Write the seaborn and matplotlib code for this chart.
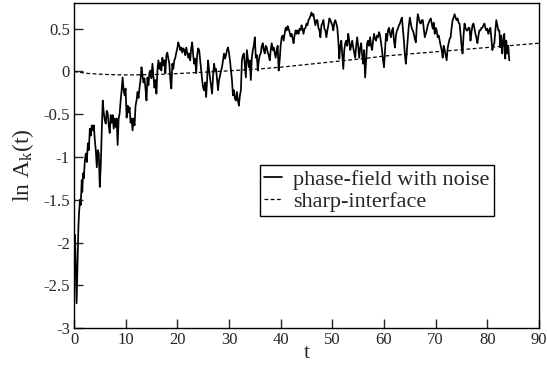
import numpy as np
import pandas as pd
import seaborn as sns
import matplotlib
matplotlib.use("Agg")
import matplotlib.pyplot as plt

# phase-field with noise: irregular start, then roughly uniform sampling
t_start = [0.0, 0.05, 0.2, 0.5, 0.7, 0.85, 0.95, 1.15, 1.3, 1.5, 1.6, 1.75, 1.9]
lnA_start = [-2.87, -1.97, -1.91, -2.71, -2.2, -1.82, -1.68, -1.5, -1.56, -1.27, -1.41, -1.19, -1.25]

lnA_rest = [
    -1.04, -0.96, -1.06, -0.84, -0.92,
    -0.67, -0.75, -0.63, -0.69, -0.63, -0.80, -0.92, -1.12, -0.92, -0.96,
    -1.35, -1.10, -0.69, -0.34, -0.48, -0.57, -0.61, -0.46, -0.49, -0.63,
    -0.72, -0.51, -0.60, -0.51, -0.67, -0.55, -0.65, -0.55, -0.86, -0.55,
    -0.49, -0.34, -0.22, -0.07, -0.22, -0.28, -0.20, -0.54, -0.40, -0.48,
    -0.42, -0.60, -0.55, -0.69, -0.55, -0.63, -0.40, -0.34, -0.24, -0.31,
    -0.19, -0.10, 0.05, -0.05, -0.13, -0.08, -0.20, -0.34, -0.07, -0.16,
    -0.01, 0.01, -0.08, 0.09, -0.05, -0.19, -0.10, -0.26, 0.01, 0.13,
    0.03, 0.10, 0.01, 0.16, 0.07, 0.13, -0.02, 0.19, 0.22, 0.15,
    0.09, -0.10, -0.20, 0.09, 0.03, 0.13, 0.16, 0.22, 0.27, 0.34,
    0.30, 0.25, 0.28, 0.22, 0.27, 0.25, 0.19, 0.28, 0.22, 0.16,
    0.21, 0.13, 0.27, 0.34, 0.19, 0.09, 0.15, -0.02, 0.19, 0.27,
    0.25, 0.13, 0.01, -0.10, -0.19, -0.22, -0.13, -0.30, -0.10, 0.13,
    0.01, -0.08, -0.16, -0.26, -0.05, 0.09, 0.01, 0.03, -0.10, -0.22,
    -0.10, -0.05, 0.01, 0.05, 0.13, 0.21, 0.15, 0.19, 0.25, 0.28,
    0.22, 0.13, 0.01, -0.10, -0.28, -0.22, -0.32, -0.34, -0.24, -0.34,
    -0.40, -0.28, -0.22, 0.13, 0.19, 0.21, 0.07, -0.07, 0.25, 0.15,
    0.05, 0.13, -0.10, 0.16, 0.25, 0.30, 0.40, 0.16, 0.19, 0.01,
    0.13, 0.19, 0.21, 0.30, 0.33, 0.25, 0.21, 0.30, 0.28, 0.22,
    0.19, 0.13, 0.25, 0.33, 0.25, 0.28, 0.22, 0.16, 0.25, 0.30,
    0.01, 0.13, 0.30, 0.40, 0.42, 0.36, 0.44, 0.51, 0.48, 0.53,
    0.50, 0.46, 0.41, 0.44, 0.39, 0.33, 0.42, 0.48, 0.44, 0.48,
    0.44, 0.50, 0.48, 0.54, 0.50, 0.44, 0.50, 0.51, 0.56, 0.54,
    0.60, 0.62, 0.65, 0.69, 0.65, 0.67, 0.60, 0.54, 0.60, 0.60,
    0.51, 0.48, 0.40, 0.54, 0.56, 0.60, 0.50, 0.48, 0.40, 0.48,
    0.54, 0.62, 0.60, 0.57, 0.54, 0.48, 0.57, 0.60, 0.56, 0.51,
    0.36, 0.15, 0.30, 0.36, 0.19, 0.03, 0.25, 0.33, 0.36, 0.30,
    0.44, 0.36, 0.25, 0.30, 0.36, 0.28, 0.22, 0.16, 0.30, 0.40,
    0.30, 0.16, 0.27, 0.33, 0.19, 0.09, 0.25, -0.07, 0.13, 0.33,
    0.36, 0.30, 0.40, 0.30, 0.25, 0.36, 0.44, 0.38, 0.36, 0.42,
    0.40, 0.46, 0.42, 0.33, 0.25, 0.13, 0.05, 0.25, 0.44, 0.36,
    0.48, 0.51, 0.44, 0.40, 0.48, 0.51, 0.36, 0.28, 0.42, 0.48,
    0.50, 0.54, 0.56, 0.60, 0.63, 0.50, 0.36, 0.19, 0.09, 0.25,
    0.40, 0.54, 0.63, 0.56, 0.50, 0.48, 0.44, 0.38, 0.34, 0.54,
    0.67, 0.62, 0.57, 0.56, 0.60, 0.60, 0.50, 0.40, 0.44, 0.48,
    0.54, 0.57, 0.60, 0.62, 0.56, 0.50, 0.57, 0.44, 0.51, 0.48,
    0.40, 0.42, 0.36, 0.30, 0.25, 0.16, 0.30, 0.25, 0.19, 0.13,
    0.27, 0.33, 0.38, 0.40, 0.51, 0.60, 0.63, 0.67, 0.63, 0.60,
    0.62, 0.57, 0.56, 0.44, 0.30, 0.21, 0.42, 0.56, 0.51, 0.48,
    0.48, 0.51, 0.51, 0.36, 0.46, 0.54, 0.56, 0.50, 0.44, 0.39,
    0.33, 0.42, 0.48, 0.48, 0.51, 0.51, 0.54, 0.56, 0.51, 0.48,
    0.50, 0.44, 0.48, 0.51, 0.39, 0.25, 0.30, 0.33, 0.48, 0.60,
    0.54, 0.48, 0.48, 0.28, 0.42, 0.21, 0.36, 0.44, 0.15, 0.36,
    0.21, 0.30, 0.13,
]
t_rest = np.linspace(2.1, 84.25, len(lnA_rest))

# sharp-interface
t_sharp = [0, 1, 3, 6, 9, 12, 16, 20, 24, 28, 32, 36, 40, 44, 48, 52, 56, 60,
           64, 68, 72, 76, 80, 84, 88, 90]
lnA_sharp = [0.0, -0.01, -0.025, -0.035, -0.04, -0.04, -0.035, -0.025, -0.012,
             0.0, 0.015, 0.03, 0.05, 0.075, 0.1, 0.125, 0.15, 0.18, 0.2, 0.22,
             0.24, 0.26, 0.28, 0.3, 0.32, 0.33]

noise = pd.DataFrame({"t": list(t_start) + list(t_rest),
                      "lnA": lnA_start + lnA_rest})
sharp = pd.DataFrame({"t": t_sharp, "lnA": lnA_sharp})

sns.set_style("ticks")
plt.rcParams["font.family"] = ["Liberation Serif", "DejaVu Serif"]
plt.rcParams["mathtext.fontset"] = "custom"
plt.rcParams["mathtext.rm"] = "Liberation Serif"
plt.rcParams["mathtext.it"] = "Liberation Serif:italic"

fig = plt.figure(figsize=(5.47, 3.69), dpi=100)
ax = fig.add_axes([0.1353, 0.111, 0.850, 0.8808])

sns.lineplot(data=noise, x="t", y="lnA", ax=ax, color="black", lw=1.25,
             estimator=None, sort=False, label="phase-field with noise")
sns.lineplot(data=sharp, x="t", y="lnA", ax=ax, color="black", lw=0.9,
             linestyle=(0, (3, 2)), estimator=None, sort=False,
             label="sharp-interface")

ax.set_xlim(0, 90)
ax.set_ylim(-3, 0.8)
ax.set_xticks(range(0, 91, 10))
ax.set_yticks([-3, -2.5, -2, -1.5, -1, -0.5, 0, 0.5])
ax.set_yticklabels(["-3", "-2.5", "-2", "-1.5", "-1", "-0.5", "0", "0.5"])
ax.tick_params(direction="in", length=6.5, width=1, labelsize=12,
               top=False, right=False, pad=3)
for s in ax.spines.values():
    s.set_visible(True)
    s.set_linewidth(1)
    s.set_color("black")

ax.set_xlabel("t", fontsize=16, labelpad=-3)
ax.set_ylabel(r"ln A$_{\rm k}$(t)", fontsize=17, labelpad=5)

leg = ax.legend(loc="upper left", bbox_to_anchor=(0.40, 0.502),
                borderaxespad=0, fontsize=16, frameon=True, fancybox=False,
                edgecolor="black", framealpha=1, handlelength=0.8,
                handletextpad=0.5, borderpad=0.2, labelspacing=0.05)
leg.get_frame().set_linewidth(1)

fig.savefig("out.png", dpi=100)
